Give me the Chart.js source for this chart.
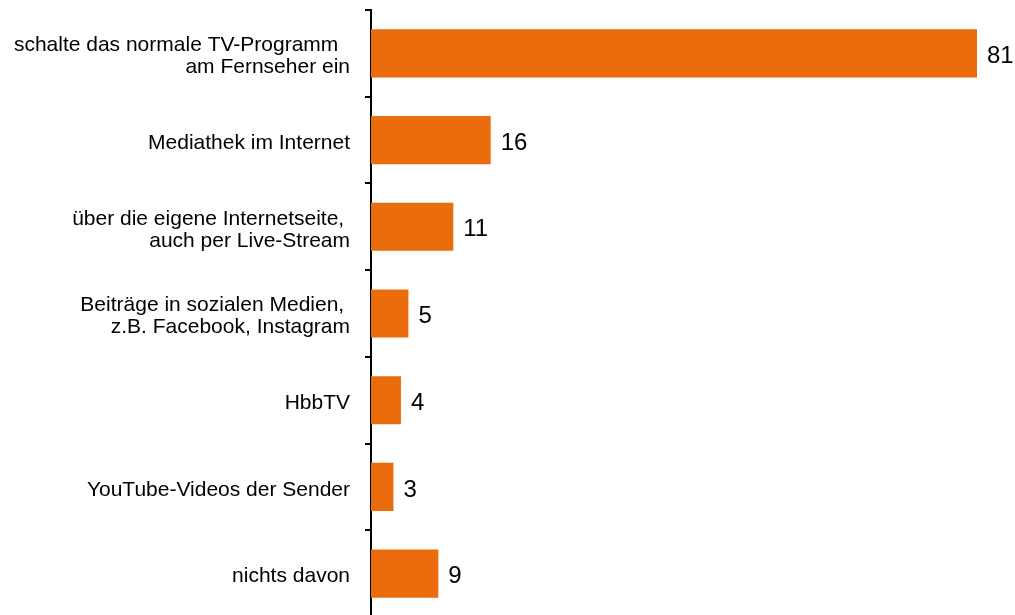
<!DOCTYPE html>
<html lang="de">
<head>
<meta charset="utf-8">
<title>Nutzung TV-Programm</title>
<script src="https://cdn.jsdelivr.net/npm/chart.js@4/dist/chart.umd.min.js"></script>
<style>
    html, body { margin: 0; padding: 0; background: #fff; overflow: hidden; }
    #wrap { position: relative; width: 1015px; height: 617px; }
</style>
</head>
<body>
<div id="wrap"><canvas id="nutzungChart"></canvas></div>
<script>
// Kategorien (mehrzeilige Beschriftungen als Arrays)
const kategorien = [
    ['schalte das normale TV-Programm  ', 'am Fernseher ein'],
    'Mediathek im Internet',
    ['über die eigene Internetseite, ', 'auch per Live-Stream'],
    ['Beiträge in sozialen Medien, ', 'z.B. Facebook, Instagram'],
    'HbbTV',
    'YouTube-Videos der Sender',
    'nichts davon'
];
// Anteile in Prozent
const werte = [81, 16, 11, 5, 4, 3, 9];

(function () {
    'use strict';

    const orange = '#EB6C0D';
    const schrift = '"Liberation Sans", Arial, sans-serif';

    // Zahlen rechts neben die Balken schreiben
    const wertLabels = {
        id: 'wertLabels',
        afterDatasetsDraw: function (chart) {
            const ctx = chart.ctx;
            const meta = chart.getDatasetMeta(0);
            ctx.save();
            ctx.font = '24px ' + schrift;
            ctx.fillStyle = '#000';
            ctx.textAlign = 'left';
            ctx.textBaseline = 'middle';
            meta.data.forEach(function (bar, i) {
                ctx.fillText(String(werte[i]), bar.x + 10, bar.y + 3);
            });
            ctx.restore();
        }
    };

    const ctx = document.getElementById('nutzungChart').getContext('2d');
    new Chart(ctx, {
        type: 'bar',
        data: {
            labels: kategorien,
            datasets: [{
                data: werte,
                backgroundColor: orange,
                borderWidth: 0,
                categoryPercentage: 1,
                barPercentage: 0.555
            }]
        },
        options: {
            indexAxis: 'y',
            responsive: true,
            maintainAspectRatio: false,
            animation: false,
            layout: { padding: { top: 10, right: 38, bottom: 0, left: 0 } },
            plugins: {
                legend: { display: false },
                tooltip: { enabled: false }
            },
            scales: {
                x: {
                    display: false,
                    min: 0,
                    max: 81
                },
                y: {
                    // feste Breite für die Beschriftungsspalte, keine Zusatzabstände oben/unten
                    afterFit: function (scale) {
                        scale.width = 371;
                        scale.paddingTop = 0;
                        scale.paddingBottom = 0;
                    },
                    border: { display: true, color: '#000', width: 2 },
                    grid: {
                        offset: true,
                        drawOnChartArea: false,
                        drawTicks: true,
                        tickLength: 6,
                        color: '#000',
                        lineWidth: 2
                    },
                    ticks: {
                        padding: 15,
                        labelOffset: 3,
                        color: '#000',
                        font: { family: schrift, size: 21, lineHeight: 1.05 }
                    }
                }
            }
        },
        plugins: [wertLabels]
    });
})();
</script>
</body>
</html>
